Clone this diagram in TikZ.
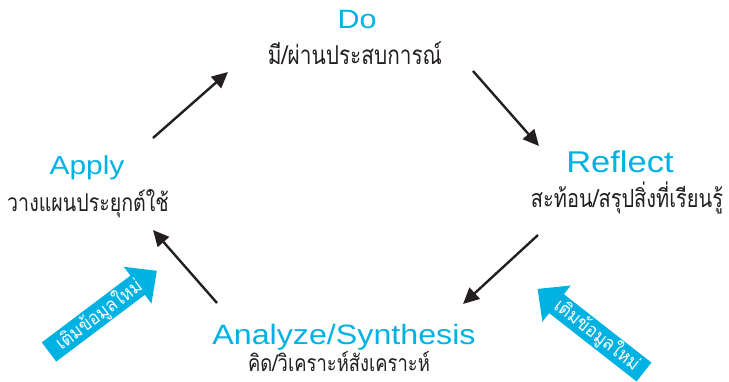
\documentclass[tikz,border=0pt]{standalone}
\usepackage{fontspec}
\setmainfont{Liberation Sans}
\newfontfamily\headfont{Liberation Sans}[FakeStretch=1.15]
\newfontfamily\thaifont[Script=Thai,FakeStretch=0.8]{Loma}
\newfontfamily\tagfont[Script=Thai,FakeStretch=0.9]{Loma}
\usetikzlibrary{arrows.meta}
\definecolor{cyanx}{RGB}{0,178,226}
\definecolor{ink}{RGB}{35,31,32}
\begin{document}
\begin{tikzpicture}[x=1pt,y=-1pt,
  head/.style={text=cyanx, font=\headfont\fontsize{#1}{#1}\selectfont, anchor=base, inner sep=0pt},
  thai/.style={text=ink, font=\thaifont\fontsize{#1}{#1}\selectfont, anchor=base, inner sep=0pt},
  flow/.style={draw=ink, line width=2.4pt, -{Triangle[length=16pt,width=15pt]}},
  tag/.style={text=white, font=\tagfont\fontsize{19}{19}\selectfont, inner sep=0pt},
  blockarrow/.style={fill=cyanx}]
\useasboundingbox (0,0) rectangle (729,381);

% headings
\node[head=26.5] (do) at (357,28) {Do};
\node[thai=26] (dot) at (355,64) {มี/ผ่านประสบการณ์};
\node[head=30] (reflect) at (620,172) {Reflect};
\node[thai=25] (reflectt) at (627,207) {สะท้อน/สรุปสิ่งที่เรียนรู้};
\node[head=26] (apply) at (87,174) {Apply};
\node[thai=24.5] (applyt) at (88,211) {วางแผนประยุกต์ใช้};
\node[head=28] (analyze) at (344,344) {Analyze/Synthesis};
\node[thai=23] (analyzet) at (339,371) {คิด/วิเคราะห์สังเคราะห์};

% cycle arrows
\coordinate (a1) at (153,138); \coordinate (b1) at (228,72);
\coordinate (a2) at (473,71);  \coordinate (b2) at (539,146);
\coordinate (a3) at (538,235); \coordinate (b3) at (463,304);
\coordinate (a4) at (217,303); \coordinate (b4) at (153,230);
\draw[flow] (a1) -- (b1);
\draw[flow] (a2) -- (b2);
\draw[flow] (a3) -- (b3);
\draw[flow] (a4) -- (b4);

% left block arrow
\begin{scope}[shift={(49,352)}, rotate=37]
  \fill[blockarrow] (0,-12) -- (111,-12) -- (111,-23) -- (135,0) -- (111,23) -- (111,12) -- (0,12) -- cycle;
\end{scope}
\node[tag, rotate=37] (tagl) at (99,315) {เติมข้อมูลใหม่};

% right block arrow
\begin{scope}[shift={(644,372)}, rotate=142]
  \fill[blockarrow] (0,-12) -- (111,-12) -- (111,-23) -- (135,0) -- (111,23) -- (111,12) -- (0,12) -- cycle;
\end{scope}
\node[tag, rotate=-38] (tagr) at (597,335) {เติมข้อมูลใหม่};
\end{tikzpicture}
\end{document}
